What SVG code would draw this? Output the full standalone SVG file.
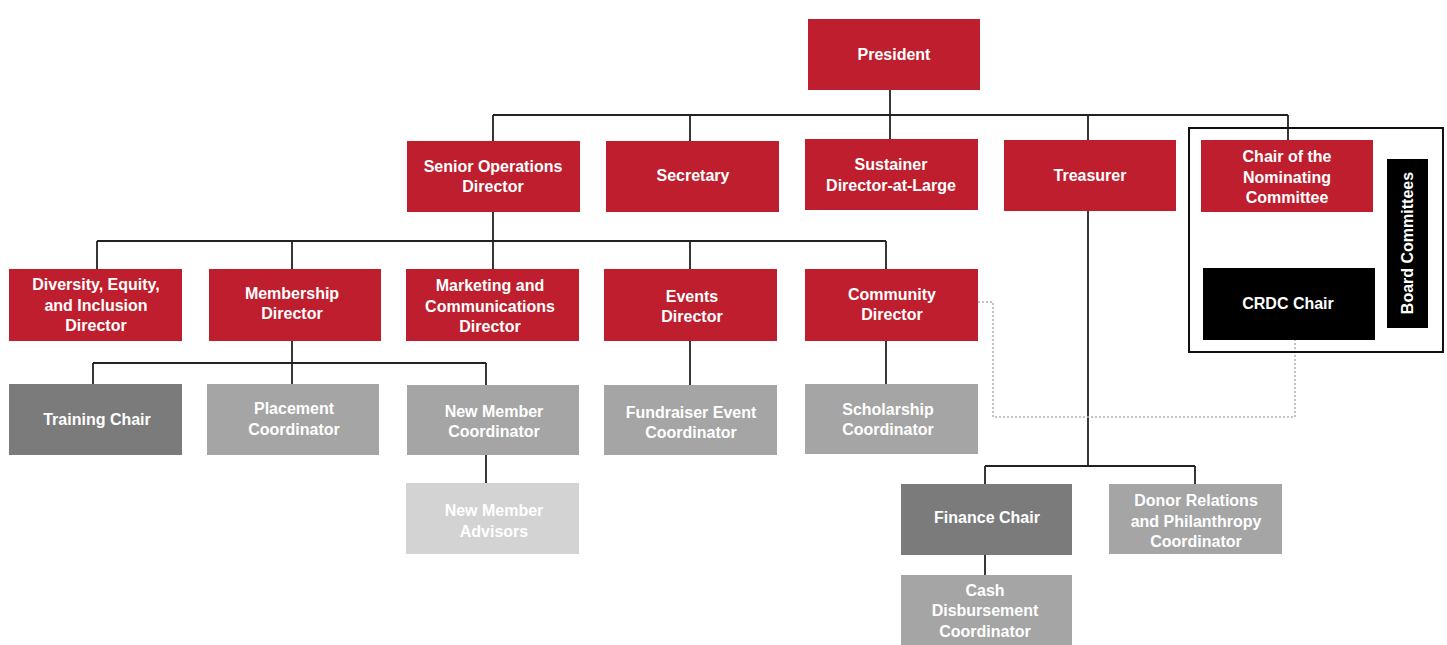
<svg xmlns="http://www.w3.org/2000/svg" width="1447" height="645" viewBox="0 0 1447 645">
<style>
.red{fill:#be1e2d}
.dk{fill:#7b7b7b}
.lt{fill:#a5a5a5}
.xl{fill:#d3d3d3}
.blk{fill:#000}
text{font-family:"Liberation Sans",Arial,sans-serif;font-weight:bold;font-size:16px;fill:#fff;text-anchor:middle}
.ln{stroke:#222;stroke-width:1.8;fill:none}
.dash{stroke:#b0b0b0;stroke-width:1.5;fill:none;stroke-dasharray:2 2}
</style>
<rect width="1447" height="645" fill="#fff"/>
<g id="connectors">
<path class="ln" d="M890 90V115M493 115H1288M493 115V141M690 115V141M890 115V139M1088 115V140M1288 115V140"/>
<path class="ln" d="M493 212V241M97 241H886M97 241V269M292 241V269M493 241V269M690 241V269M886 241V269"/>
<path class="ln" d="M292 341V363M93 363H486M93 363V384M292 363V384M486 363V385M486 455V483"/>
<path class="ln" d="M690 341V385M886 341V384"/>
<path class="ln" d="M1088 211V466M985 466H1195M985 466V484M1195 466V484M985 555V575"/>
<path class="dash" d="M978 302H993V417H1295V340"/>
<rect x="1189" y="128" width="254" height="224" fill="none" stroke="#111" stroke-width="2"/>
</g>
<g id="president"><rect class="red" x="808" y="19" width="172" height="71"/><text x="894" y="60">President</text></g>
<g id="senior-ops"><rect class="red" x="407" y="141" width="173" height="71"/><text x="493" y="172">Senior Operations</text><text x="493" y="192">Director</text></g>
<g id="secretary"><rect class="red" x="606" y="141" width="173" height="71"/><text x="693" y="181">Secretary</text></g>
<g id="sustainer"><rect class="red" x="805" y="139" width="173" height="71"/><text x="891" y="170">Sustainer</text><text x="891" y="191">Director-at-Large</text></g>
<g id="treasurer"><rect class="red" x="1004" y="140" width="172" height="71"/><text x="1090" y="181">Treasurer</text></g>
<g id="chair-nominating"><rect class="red" x="1201" y="140" width="172" height="72"/><text x="1287" y="162">Chair of the</text><text x="1287" y="183">Nominating</text><text x="1287" y="203">Committee</text></g>
<g id="crdc"><rect class="blk" x="1203" y="268" width="172" height="72"/><text x="1288" y="309">CRDC Chair</text></g>
<g id="board-committees"><rect class="blk" x="1387" y="159" width="41" height="169"/><text transform="translate(1413 243) rotate(-90)">Board Committees</text></g>
<g id="dei"><rect class="red" x="9" y="269" width="173" height="72"/><text x="96" y="290">Diversity, Equity,</text><text x="96" y="311">and Inclusion</text><text x="96" y="331">Director</text></g>
<g id="membership"><rect class="red" x="209" y="269" width="172" height="72"/><text x="292" y="299">Membership</text><text x="292" y="319">Director</text></g>
<g id="marketing"><rect class="red" x="406" y="269" width="173" height="72"/><text x="490" y="291">Marketing and</text><text x="490" y="312">Communications</text><text x="490" y="332">Director</text></g>
<g id="events"><rect class="red" x="604" y="269" width="173" height="72"/><text x="692" y="302">Events</text><text x="692" y="322">Director</text></g>
<g id="community"><rect class="red" x="805" y="269" width="173" height="72"/><text x="892" y="300">Community</text><text x="892" y="320">Director</text></g>
<g id="training"><rect class="dk" x="9" y="384" width="173" height="71"/><text x="97" y="425">Training Chair</text></g>
<g id="placement"><rect class="lt" x="207" y="384" width="172" height="71"/><text x="294" y="414">Placement</text><text x="294" y="435">Coordinator</text></g>
<g id="new-member-coord"><rect class="lt" x="407" y="385" width="172" height="70"/><text x="494" y="417">New Member</text><text x="494" y="437">Coordinator</text></g>
<g id="new-member-advisors"><rect class="xl" x="406" y="483" width="173" height="71"/><text x="494" y="516">New Member</text><text x="494" y="537">Advisors</text></g>
<g id="fundraiser"><rect class="lt" x="604" y="385" width="173" height="70"/><text x="691" y="418">Fundraiser Event</text><text x="691" y="438">Coordinator</text></g>
<g id="scholarship"><rect class="lt" x="805" y="384" width="173" height="70"/><text x="888" y="415">Scholarship</text><text x="888" y="435">Coordinator</text></g>
<g id="finance"><rect class="dk" x="901" y="484" width="171" height="71"/><text x="987" y="523">Finance Chair</text></g>
<g id="donor"><rect class="lt" x="1109" y="484" width="173" height="70"/><text x="1196" y="506">Donor Relations</text><text x="1196" y="527">and Philanthropy</text><text x="1196" y="547">Coordinator</text></g>
<g id="cash"><rect class="lt" x="901" y="575" width="171" height="70"/><text x="985" y="596">Cash</text><text x="985" y="616">Disbursement</text><text x="985" y="637">Coordinator</text></g>
</svg>
